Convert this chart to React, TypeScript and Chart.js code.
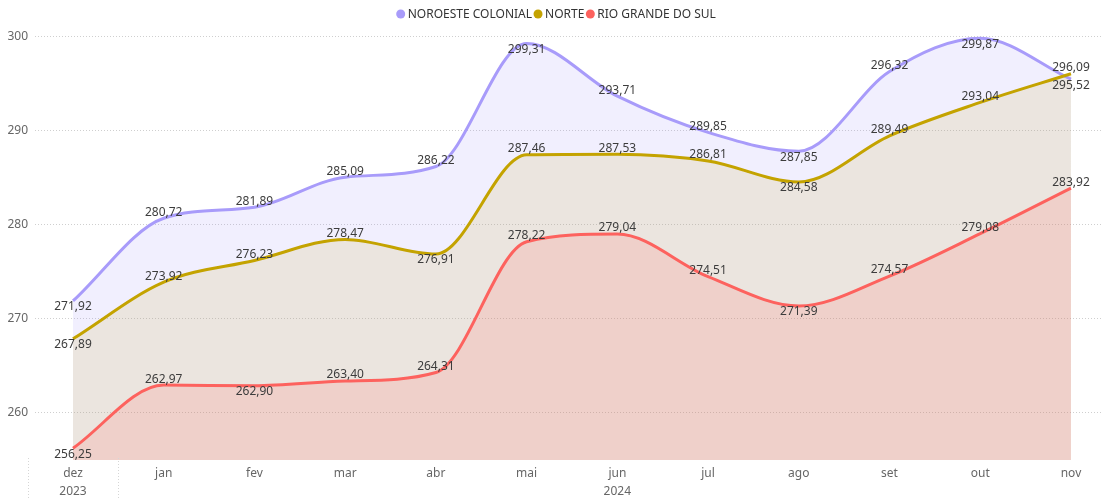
import React, { useEffect, useRef } from 'react';
import { Chart, registerables } from 'chart.js';

Chart.register(...registerables);

// ---- data ----
const months = ['dez', 'jan', 'fev', 'mar', 'abr', 'mai', 'jun', 'jul', 'ago', 'set', 'out', 'nov'];
const years = ['2023', '', '', '', '', '', '2024', '', '', '', '', ''];
const seriesNames = ['NOROESTE COLONIAL', 'NORTE', 'RIO GRANDE DO SUL'];
const noroeste = [271.92, 280.72, 281.89, 285.09, 286.22, 299.31, 293.71, 289.85, 287.85, 296.32, 299.87, 295.52];
const norte = [267.89, 273.92, 276.23, 278.47, 276.91, 287.46, 287.53, 286.81, 284.58, 289.49, 293.04, 296.09];
const rgs = [256.25, 262.97, 262.9, 263.4, 264.31, 278.22, 279.04, 274.51, 271.39, 274.57, 279.08, 283.92];
const yTicks = [260, 270, 280, 290, 300];

// label placement: 'a' = above point, 'b' = below point
const noroestePos = ['b', 'a', 'a', 'a', 'a', 'b', 'a', 'a', 'b', 'a', 'b', 'b'];
const nortePos = ['b', 'a', 'a', 'a', 'b', 'a', 'a', 'a', 'b', 'a', 'a', 'a'];
const rgsPos = ['b', 'a', 'b', 'a', 'a', 'a', 'a', 'a', 'b', 'a', 'a', 'a'];

const lineColors = ['rgb(168,155,250)', 'rgb(196,163,0)', 'rgb(253,98,94)'];
const fillColors = ['rgba(168,155,250,0.16)', 'rgba(196,163,0,0.12)', 'rgba(253,98,94,0.17)'];
const FONT = '"Noto Sans", "DejaVu Sans", sans-serif';

const fmt = (v: number) => v.toFixed(2).replace('.', ',');

const labelsPlugin = {
  id: 'pointLabels',
  afterDatasetsDraw(chart: any) {
    const ctx = chart.ctx;
    ctx.save();
    ctx.font = `12px ${FONT}`;
    ctx.fillStyle = '#3c3c3c';
    ctx.textAlign = 'center';
    ctx.textBaseline = 'middle';
    chart.data.datasets.forEach((ds: any, di: number) => {
      const meta = chart.getDatasetMeta(di);
      meta.data.forEach((pt: any, i: number) => {
        const pos = ds.labelPos[i];
        const y = pos === 'a' ? pt.y - 6 : pt.y + 6;
        ctx.fillText(fmt(ds.data[i].y), pt.x, y);
      });
    });
    ctx.restore();
  },
};

const legendPlugin = {
  id: 'customLegend',
  afterDraw(chart: any) {
    const ctx = chart.ctx;
    ctx.save();
    ctx.font = `12px ${FONT}`;
    ctx.textBaseline = 'middle';
    ctx.textAlign = 'left';
    const widths = seriesNames.map((n) => ctx.measureText(n).width);
    const r = 4.5;
    const textGap = 7;
    const itemGap = 6;
    let total = r;
    widths.forEach((w, i) => {
      total += textGap + w + (i < widths.length - 1 ? itemGap : 0);
    });
    const center = 556;
    let cx = center - total / 2 + r;
    const cy = 14;
    seriesNames.forEach((n, i) => {
      ctx.fillStyle = lineColors[i];
      ctx.beginPath();
      ctx.arc(cx, cy, r, 0, Math.PI * 2);
      ctx.fill();
      ctx.fillStyle = '#333333';
      ctx.fillText(n, cx + textGap, cy + 0.5);
      cx += textGap + widths[i] + itemGap;
    });
    ctx.restore();
  },
};

const separatorPlugin = {
  id: 'yearSeparators',
  afterDraw(chart: any) {
    const ctx = chart.ctx;
    const xs = chart.scales.x;
    const bottom = chart.chartArea.bottom;
    ctx.save();
    ctx.strokeStyle = '#d6d6d6';
    ctx.lineWidth = 1;
    ctx.setLineDash([1, 2]);
    [-0.5, 0.5].forEach((v) => {
      const x = Math.round(xs.getPixelForValue(v)) + 0.5;
      ctx.beginPath();
      ctx.moveTo(x, bottom - 2);
      ctx.lineTo(x, chart.height);
      ctx.stroke();
    });
    ctx.restore();
  },
};

export default function App() {
  const ref = useRef<HTMLCanvasElement | null>(null);

  useEffect(() => {
    if (!ref.current) return;
    const series = [
      { name: seriesNames[2], values: rgs, pos: rgsPos, c: 2 },
      { name: seriesNames[1], values: norte, pos: nortePos, c: 1 },
      { name: seriesNames[0], values: noroeste, pos: noroestePos, c: 0 },
    ];
    const chart = new Chart(ref.current, {
      type: 'line',
      data: {
        datasets: series.map((s) => ({
          label: s.name,
          data: s.values.map((v, i) => ({ x: i, y: v })),
          labelPos: s.pos,
          borderColor: lineColors[s.c],
          backgroundColor: fillColors[s.c],
          borderWidth: 3,
          fill: 'start',
          pointRadius: 0,
          pointHoverRadius: 0,
          cubicInterpolationMode: 'monotone',
        })) as any,
      },
      options: {
        animation: false,
        responsive: true,
        maintainAspectRatio: false,
        layout: { padding: { top: 28, left: 8, right: 3, bottom: 1 } },
        plugins: {
          legend: { display: false },
          tooltip: { enabled: false },
          filler: { drawTime: 'beforeDatasetsDraw' },
        },
        scales: {
          x: {
            type: 'linear',
            min: -0.4188,
            max: 11.342,
            grid: { display: false },
            border: { display: false },
            afterFit: (scale: any) => {
              scale.height = 39;
            },
            afterBuildTicks: (scale: any) => {
              scale.ticks = months.map((_, i) => ({ value: i }));
            },
            ticks: {
              autoSkip: false,
              maxRotation: 0,
              padding: -3,
              color: '#666666',
              font: { family: FONT, size: 12, lineHeight: 1.5 },
              callback: (v: any) => {
                const i = Math.round(Number(v));
                if (i < 0 || i >= months.length) return '';
                return years[i] ? [months[i], years[i]] : months[i];
              },
            },
          },
          y: {
            type: 'linear',
            min: 255,
            max: 300.957,
            afterFit: (scale: any) => {
              scale.width = 27;
            },
            afterBuildTicks: (scale: any) => {
              scale.ticks = yTicks.map((v) => ({ value: v }));
            },
            grid: { color: '#cfcfcf', lineWidth: 1, drawTicks: false },
            border: { display: false, dash: [1, 2] },
            ticks: {
              padding: 7,
              color: '#666666',
              font: { family: FONT, size: 12 },
              callback: (v: any) => String(v),
            },
          },
        },
      } as any,
      plugins: [labelsPlugin, legendPlugin, separatorPlugin],
    });
    return () => chart.destroy();
  }, []);

  return (
    <div style={{ position: 'absolute', left: 0, top: 0, width: 1105, height: 500, background: '#fff' }}>
      <canvas ref={ref} />
    </div>
  );
}
